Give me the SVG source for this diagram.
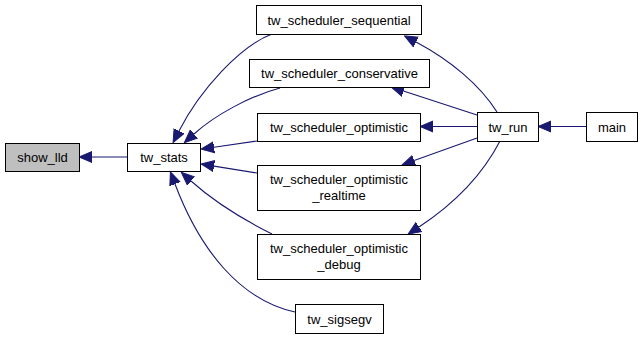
<svg xmlns="http://www.w3.org/2000/svg" width="643" height="339" viewBox="0 0 643 339">
  <style>
    .node rect { fill: #ffffff; stroke: #000000; stroke-width: 1; }
    .node.current rect { fill: #bfbfbf; }
    .node text { font-family: "Liberation Sans", Arial, sans-serif; font-size: 13px; fill: #000000; text-anchor: middle; }
    .edges path { fill: none; stroke: #191970; stroke-width: 1.1; marker-end: url(#arrow); }
  </style>
  <defs>
    <marker id="arrow" markerUnits="userSpaceOnUse" markerWidth="14" markerHeight="14" viewBox="0 -7 14 14" refX="0" refY="0" orient="auto">
      <path d="M0,-5.5 L13,0 L0,5.5 Z" fill="#191970" stroke="#191970" stroke-width="1"/>
    </marker>
  </defs>

  <rect width="643" height="339" fill="#ffffff"/>

  <!-- call edges: arrowheads sit on the called function -->
  <g id="edges" class="edges">
    <path d="M127,157 L92,157"/>
    <path d="M586,126.5 L551,126.5"/>
    <path d="M477,126.5 L433,126.5"/>
    <path d="M257,141 L214,147.2"/>
    <path d="M257,173 L214,166.1"/>
    <path d="M477,115 L403.4,91"/>
    <path d="M477,138 L414.2,160.6"/>
    <path d="M497,112 C480,85 450,60 416,42"/>
    <path d="M500,141 C485,170 460,200 419,227"/>
    <path d="M272,34 C240,46 200,90 179,131"/>
    <path d="M280,88 C250,96 215,115 194,134"/>
    <path d="M272,234 C240,218 210,198 191,181"/>
    <path d="M295,312 C240,300 200,250 175,184"/>
  </g>

  <g id="show_lld" class="node current">
    <rect x="5.5" y="143.5" width="74" height="28"/>
    <text x="42.5" y="162">show_lld</text>
  </g>
  <g id="tw_stats" class="node">
    <rect x="127.5" y="143.5" width="73" height="28"/>
    <text x="164" y="162">tw_stats</text>
  </g>
  <g id="tw_scheduler_sequential" class="node">
    <rect x="256.5" y="5.5" width="165" height="29"/>
    <text x="339" y="24.5">tw_scheduler_sequential</text>
  </g>
  <g id="tw_scheduler_conservative" class="node">
    <rect x="249.5" y="59.5" width="180" height="28"/>
    <text x="339.5" y="78">tw_scheduler_conservative</text>
  </g>
  <g id="tw_scheduler_optimistic" class="node">
    <rect x="257.5" y="113.5" width="163" height="28"/>
    <text x="339" y="132">tw_scheduler_optimistic</text>
  </g>
  <g id="tw_scheduler_optimistic_realtime" class="node">
    <rect x="257.5" y="165.5" width="163" height="45"/>
    <text x="339" y="183.5">tw_scheduler_optimistic</text>
    <text x="339" y="199.5">_realtime</text>
  </g>
  <g id="tw_scheduler_optimistic_debug" class="node">
    <rect x="257.5" y="234.5" width="163" height="45"/>
    <text x="339" y="252.5">tw_scheduler_optimistic</text>
    <text x="339" y="268.5">_debug</text>
  </g>
  <g id="tw_sigsegv" class="node">
    <rect x="295.5" y="304.5" width="88" height="29"/>
    <text x="339.5" y="323.5">tw_sigsegv</text>
  </g>
  <g id="tw_run" class="node">
    <rect x="477.5" y="112.5" width="61" height="29"/>
    <text x="508" y="131.5">tw_run</text>
  </g>
  <g id="main" class="node">
    <rect x="586.5" y="112.5" width="51" height="29"/>
    <text x="612" y="131.5">main</text>
  </g>
</svg>
